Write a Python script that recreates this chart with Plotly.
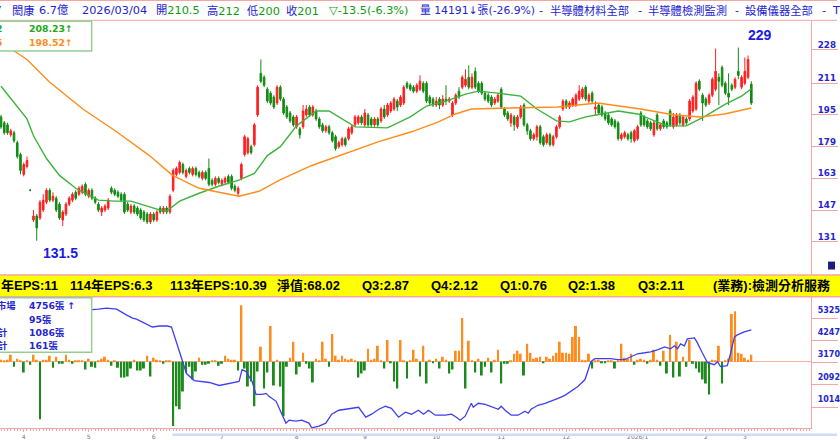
import plotly.graph_objects as go

# ---------------- data ----------------
opens = [194,191,190,185,186,181,175,165,169,157,
         142,144,143,147,151,157,152,153,150,142,
         145,150,152,156,155,156,160,154,157,153,
         150,146,147,148,158,157,156,155,155,150,
         146,149,148,147,146,145,141,145,142,148,
         146,148,146,157,165,166,170,164,168,165,
         168,166,163,166,168,162,160,163,160,161,
         164,164,159,155.5,163,175,176,179,180,195,
         216,214,208,206,204,201,209,203,199,196,
         194,189,188,189,195,199,195,197,193,190,
         187,189,186,184,179,180,183,183,186,190,
         191,194,190,195,193,190,193,192,198,195,
         197,198,202,200,201,211,210,209,207,208,
         211,211,204,203,200,203,200,203,202,195,
         201,207,209,210,214,209,217,211,211,206,
         205,204,201,202,208,198,196,191,194,189,
         194,200,190,187,183,184,189,184,181,185,
         180,184,189,198,202,199,200,200,203,204,
         209,202,206,198,200,199,196,195,193,192,
         191,183,184,185,186,182,183,196,194,192,
         191,185,195,188,192,191,197,189,190,195,
         190,193,193,197,198,212,205,203,201,205,
         208,214,219,211,206,210,209,217,209,211,
         214,210.5]
highs = [195,192,191,188,187,182,176,171,174,157.5,
         147,145,152,155,158,158,156,154,151,147,
         151,154,156,157,159,160,161,158,158,154,
         151,149,150,153,159,158,157,156,156,151,
         150,150,149,148,147,146,146,146,147,149,
         149,149,155,168,169,172,171,168,169,169,
         169,167,167,167,173,163,164,164,163,164,
         165,165,160,159,171,185,184,180,191,210,
         223,215,209,207,205,210,210,204,200,197,
         195,195,189,200,200,200,200,198,194,191,
         190,190,187,185,182,184,184,189,190,195,
         195,195,198,196,194,194,194,199,200,201,
         202,204,203,205,210,212,211,210,211,215,
         212,212,205,204,204,204,205,210,204,202,
         206,209,215,218,220,216,219,212,212,207,
         206,205,204,206,209,199,197,196,195,195,
         200,201,191,188,186,190,190,185,186,186,
         185,190,195,203,203,202,204,206,210,209,
         210,206,207,202,201,200,197,196,194,193,
         192,186,187,186,187,188,190,197,195,193,
         192,192,196,191,193,192,198,196,196,196,
         195,194,203,205,212,213,206,204,206,214,
         228.5,216,220,212,216,211,214,229,215,224,
         225,212]
lows = [188,185,185,184,181,173,165,164,168,156.5,
        141,131.5,142,146,150,151,151,146,142,139,
        144,149,151,152,154,155,154,153,152,150,
        146,144,146,147,155,154,153,151,145,146,
        145,145,144,142,141,140,140,141,141,145,
        145,145,145,156,164,165,165,163,165,164,
        164,163,162,162,159,159,159,160,159,160,
        160,157,156,154,162,174,175,175,179,194,
        211,209,201,200,198,200,202,195,193,191,
        189,188,183,188,194,194,194,192,188,186,
        186,185,181,177,178,179,179,182,185,189,
        190,190,189,189,189,189,189,191,193,194,
        196,197,197,199,200,208,207,206,206,207,
        206,201,200,199,199,198,199,200,201,194,
        200,203,208,209,208,208,208,206,205,202,
        201,199,200,201,198,194,192,189,187,188,
        193,189,185,182,182,182,180,179,180,179,
        179,183,188,197,198,198,199,199,202,203,
        202,201,201,195,195,194,192,190,189,188,
        182,182,183,182,181,181,182,189,189,188,
        187,184,187,187,188,188,189,188,189,190,
        189,190,192,196,197,207,192,199,200,204,
        207,200,209,205,200,207,208,213,208,210,
        213,200]
closes = [189,186,186,187,182,174,167,170,172,157,
          144,138,151,152,157,152,154,147,143,146,
          150,153,155,153,158,159,155,157,153,151,
          147,148,149,152,156,155,154,152,146,147,
          149,146,145,143,142,141,145,142,146,146,
          148,146,154,167,168,171,166,167,166,168,
          165,164,166,163,160,160,163,161,162,163,
          161,158,157,158,170,184,183,176,190,209,
          212,210,202,201,199,209,203,196,194,192,
          190,194,185,197,198,195,199,193,189,187,
          189,186,182,178,181,183,180,188,189,194,
          194,191,196,190,190,193,190,198,194,200,
          201,203,199,204,209,209,208,207,210,212,
          207,202,201,200,202,200,203,202,203,201,
          205,204,214,213,209,214,209,207,206,203,
          202,200,203,205,199,195,193,195,190,194,
          199,190,187,183,185,189,181,180,185,180,
          184,189,194,202,199,201,203,205,207,208,
          203,205,202,199,196,195,193,191,190,189,
          183,185,186,183,183,187,189,190,190,189,
          188,191,188,190,189,189,190,194,195,191,
          194,191,202,204,211,208,201,200,205,213,
          217,212,210,206,204,208,213,215,214,217,
          223,201]

# moving averages (vertices at bar positions)
ma_short_x = [0, 8, 10, 14, 18, 23, 27, 30, 35, 40, 44, 49, 51, 55, 61, 67, 73, 78, 82, 86,
              91, 97, 101, 109, 119, 126, 131, 137, 143, 147, 153, 160, 165, 171, 175, 180,
              185, 190, 196, 201, 205, 211, 217, 223, 228, 231]
ma_short_v = [209.5, 193, 184.5, 173, 164.5, 158, 154.5, 152, 151.5, 151.5, 149.5, 147, 146.5,
              151.5, 155.5, 159, 162, 165.5, 174.5, 179, 189.5, 197, 197, 189, 188.5, 194,
              199.5, 202, 205.5, 207, 206, 204.5, 198, 192, 191.5, 194, 195.5, 197, 195.5,
              192, 189.5, 189.5, 194.5, 200.5, 204.5, 208.23]
ma_long_x = [0, 4.3, 8, 15, 25.2, 35.6, 45.7, 52.8, 61, 71.2, 73.3, 79.4, 85.6, 95.7, 106.1,
             116.3, 126.4, 134.7, 139.9, 144.8, 157.1, 171.5, 183.7, 196.9, 207.4, 215.3,
             222.7, 231]
ma_long_v = [230.5, 227, 223, 211.5, 198, 186.5, 174.5, 164.5, 158, 154.5, 154, 156.5, 162,
             169.5, 175.5, 181.5, 186.5, 191.5, 195.5, 198, 198.5, 199, 201, 198, 195, 194,
             195.5, 198.52]

# daily net buy/sell (張)
net_buy = [40,20,40,140,-100,60,20,-220,20,-60,
           140,40,-1160,40,40,120,-120,100,-40,-40,
           140,40,-40,20,20,20,-160,60,-100,-120,
           20,60,100,40,-80,20,-120,-320,-320,-300,
           -140,40,-180,-180,-140,120,-300,80,40,20,
           -40,20,20,-1300,-900,-960,-600,-220,-100,-360,
           -200,80,-60,-60,-40,20,20,-80,-40,120,
           60,40,40,-180,1140,-140,-500,-400,-900,-200,
           300,-540,-220,720,-480,40,-500,-1100,-100,80,
           400,-260,-100,180,-40,-140,-420,60,20,400,
           60,-100,560,120,40,120,60,40,60,20,
           -320,-240,-180,260,40,60,320,20,-140,440,
           -20,-400,-540,440,20,-340,20,240,60,-300,
           320,-440,40,-20,60,-140,100,40,-240,-160,
           220,220,880,-540,420,20,-220,60,-280,-100,
           80,-220,40,240,-440,-40,-40,20,160,220,
           160,-280,360,180,60,80,100,-20,100,60,
           120,180,400,180,180,160,500,720,500,40,
           20,160,-140,20,40,-20,-20,20,20,-140,
           20,360,80,60,160,-60,40,60,40,-40,
           40,240,40,-80,220,-240,540,-320,400,-300,
           100,-100,440,-40,-140,-220,-360,-440,-660,40,
           20,320,-440,20,60,960,1020,180,160,80,
           40,140]

# cumulative holdings (張)
hold_x = [0, 9, 18, 28, 30, 32.5, 35.6, 38.7, 40.5, 41.7,
          43.6, 44.8, 46.6, 48.8, 51.2, 52.5, 54.0, 54.9, 55.8, 57.1,
          59.5, 62.0, 64.1, 67.2, 70.2, 72.7, 73.3, 74.2, 75.5, 76.4,
          77.3, 78.5, 80.4, 81.6, 82.5, 84.7, 86.5, 87.7, 88.7, 90.8,
          92.6, 94.8, 95.7, 97.9, 100.0, 101.8, 104.0, 108.0, 110.1, 112.3,
          114.1, 116.3, 118.4, 120.2, 122.4, 124.5, 126.4, 128.5, 130.1, 131.6,
          133.7, 136.8, 138.7, 140.2, 141.4, 142.9, 144.8, 145.4, 146.9, 149.1,
          150.9, 153.1, 154.0, 155.2, 157.1, 159.2, 161.3, 162.3, 163.2, 165.3,
          167.5, 169.3, 171.5, 173.6, 175.5, 177.6, 179.8, 181.6, 182.8, 184.7,
          187.7, 189.9, 192.0, 193.9, 196.0, 198.2, 200.0, 202.1, 204.3, 206.1,
          207.4, 208.3, 209.2, 210.4, 211.3, 213.5, 214.4, 215.9, 217.5, 219.6,
          220.6, 221.5, 223.6, 224.5, 225.8, 226.7, 228.8, 231]
hold_v = [5565, 5660, 5612, 5708, 5756, 5804, 5756, 5469, 5325, 5277,
          5133, 5038, 4894, 4942, 4942, 4894, 4175, 3649, 3217, 2643,
          2307, 2260, 2212, 2068, 2164, 2212, 2260, 2834, 2738, 2499,
          2260, 1637, 1637, 1685, 1541, 1301, 679, 248, 391, 344,
          391, 248, 20, 104, 248, 679, 870, 966, 1014, 535,
          679, 918, 1062, 966, 535, 775, 679, 870, 679, 870,
          631, 631, 679, 535, 391, 583, 1206, 1014, 1206, 1158,
          1062, 918, 1062, 870, 631, 631, 823, 727, 918, 1110,
          1206, 1301, 1445, 1589, 1781, 2020, 2355, 3217, 3361, 3361,
          3361, 3313, 3313, 3457, 3601, 3649, 3696, 3792, 3936, 3840,
          3984, 3840, 4080, 3984, 4319, 4367, 4128, 3649, 3169, 3074,
          3217, 2978, 3026, 3553, 4415, 4511, 4654, 4756]

month_ticks = [7, 27, 47, 68, 91, 112, 134, 154, 174, 196, 217, 229]
month_labels = ["4", "5", "6", "7", "8", "9", "10", "11", "12", "2026/1", "2", "3"]
price_ticks = [228, 211, 195, 179, 163, 147, 131]
hold_ticks = [5325, 4247, 3170, 2092, 1014]

# ---------------- styling ----------------
W, H = 840, 440
def px(v):
    return v / W
def py(v):
    return 1 - v / H

FONT = "DejaVu Sans, Noto Sans CJK TC, sans-serif"
ARIAL = "Liberation Sans, Arial, Noto Sans CJK TC, sans-serif"
PINK = "#f2a6a6"
BLUE = "#2424d0"
GTXT = "#0e9a0e"
RED = "#ff1f1f"
DGREEN = "#138a13"
ORANGE = "#ff8c1a"

x = list(range(len(closes)))

fig = go.Figure()
fig.add_trace(go.Candlestick(
    x=x, open=opens, high=highs, low=lows, close=closes,
    increasing=dict(line=dict(color=RED, width=1), fillcolor=RED),
    decreasing=dict(line=dict(color=DGREEN, width=1), fillcolor=DGREEN),
    whiskerwidth=0, xaxis="x", yaxis="y", showlegend=False, hoverinfo="skip"))
fig.add_trace(go.Scatter(x=ma_short_x, y=ma_short_v, mode="lines",
                         line=dict(color="#3cb43c", width=1.4), xaxis="x", yaxis="y",
                         showlegend=False, hoverinfo="skip"))
fig.add_trace(go.Scatter(x=ma_long_x, y=ma_long_v, mode="lines",
                         line=dict(color=ORANGE, width=1.4), xaxis="x", yaxis="y",
                         showlegend=False, hoverinfo="skip"))
fig.add_trace(go.Bar(x=x, y=net_buy,
                     marker=dict(color=[ORANGE if v > 0 else "#1d8a1d" for v in net_buy], line=dict(width=0)),
                     width=0.6, xaxis="x", yaxis="y2", showlegend=False, hoverinfo="skip"))
fig.add_trace(go.Scatter(x=hold_x, y=hold_v, mode="lines",
                         line=dict(color="#3f3ff2", width=1.3), xaxis="x", yaxis="y3",
                         showlegend=False, hoverinfo="skip"))

axis_font = dict(family=FONT, size=8.7, color=BLUE, weight="bold")
fig.update_layout(
    width=W, height=H, margin=dict(l=0, r=0, t=0, b=0),
    paper_bgcolor="white", plot_bgcolor="white", showlegend=False,
    font=dict(family=FONT),
    xaxis=dict(domain=[0, px(814)], range=[-0.31, 249.4], anchor="y2",
               showgrid=False, zeroline=False, showline=True, linecolor=PINK, linewidth=1,
               tickmode="array", tickvals=month_ticks, ticktext=month_labels,
               ticks="outside", ticklen=3, tickcolor=PINK,
               tickfont=dict(family=FONT, size=6, color="#777777"),
               minor=dict(tickmode="linear", tick0=0, dtick=1, ticks="outside",
                          ticklen=2, tickcolor=PINK, showgrid=False),
               rangeslider=dict(visible=False), fixedrange=True),
    yaxis=dict(domain=[py(277), py(20)], range=[114.5, 243], side="right", anchor="x",
               showgrid=False, zeroline=False, showline=True, linecolor=PINK,
               tickmode="array", tickvals=price_ticks, ticks="outside", ticklen=26,
               tickcolor=PINK, tickfont=axis_font, ticklabelstandoff=-22,
               ticklabelshift=-5),
    yaxis2=dict(domain=[py(432), py(299)], range=[-1340, 1320], anchor="x",
                showgrid=False, showticklabels=False, zeroline=True,
                zerolinecolor="#f3b59a", zerolinewidth=1, ticks=""),
    yaxis3=dict(overlaying="y2", range=[8, 6380], side="right", anchor="x",
                showgrid=False, zeroline=False, showline=True, linecolor=PINK,
                tickmode="array", tickvals=hold_ticks, ticks="outside", ticklen=26,
                tickcolor=PINK, tickfont=dict(family=FONT, size=8, color=BLUE, weight="bold"),
                ticklabelstandoff=-22, ticklabelshift=-8),
)

shapes = []
# header lines
shapes.append(dict(type="line", xref="paper", yref="paper", x0=0, x1=1, y0=py(0.5), y1=py(0.5),
                   line=dict(color=PINK, width=1)))
shapes.append(dict(type="line", xref="paper", yref="paper", x0=0, x1=1, y0=py(20.5), y1=py(20.5),
                   line=dict(color=PINK, width=1)))
# yellow band
shapes.append(dict(type="rect", xref="paper", yref="paper", x0=-0.01, x1=1.01, y0=py(299.5), y1=py(277.5),
                   fillcolor="#ffff00", line=dict(color=PINK, width=1.5), layer="above"))
# legend boxes
shapes.append(dict(type="rect", xref="paper", yref="paper", x0=-0.01, x1=px(92), y0=py(51.5), y1=py(21.5),
                   fillcolor="white", line=dict(color="#93cf93", width=1.5), layer="above"))
shapes.append(dict(type="rect", xref="paper", yref="paper", x0=-0.01, x1=px(92), y0=py(355.5), y1=py(300.5),
                   fillcolor="white", line=dict(color="#93cf93", width=1.5), layer="above"))
# small icon in price axis strip
shapes.append(dict(type="rect", xref="paper", yref="paper", x0=px(831), x1=px(838), y0=py(272), y1=py(264),
                   fillcolor="#1b1b80", line=dict(width=0), layer="above"))
# bottom strip
shapes.append(dict(type="rect", xref="paper", yref="paper", x0=px(173), x1=1, y0=0, y1=py(437.5),
                   fillcolor="#cfdcf7", line=dict(width=0), layer="above"))
fig.update_layout(shapes=shapes)

ann = []
def txt(xp, yp, text, color=BLUE, size=11.3, family=FONT, anchor="left", weight="normal"):
    ann.append(dict(xref="paper", yref="paper", x=px(xp), y=py(yp), text=text, showarrow=False,
                    xanchor=anchor, yanchor="middle", borderpad=0,
                    font=dict(family=family, size=size, color=color, weight=weight)))

def g(s):
    return '<span style="color:%s">%s</span>' % (GTXT, s)

# header
hy = 11
txt(3.5, hy, "3587", anchor="right")
txt(11, hy, "閎康")
txt(38, hy, "6.7億")
txt(81, hy, "2026/03/04")
txt(156, hy, "開" + g("210.5"))
txt(207, hy, "高" + g("212"))
txt(247, hy, "低" + g("200"))
txt(286, hy, "收" + g("201"))
txt(329, hy, g("▽-13.5(-6.3%)"))
txt(421, hy, "量 14191↓張(-26.9%)", size=10.8)
txt(540, hy, "-")
txt(551, hy, "半導體材料全部")
txt(639, hy, "-")
txt(649, hy, "半導體檢測監測")
txt(737, hy, "-")
txt(747, hy, "設備儀器全部")
txt(824, hy, "-")
txt(834, hy, "T")

# top legend
txt(3.5, 28.5, "2", color="#22a822", size=9.3, anchor="right", weight="bold")
txt(28, 28.5, "208.23↑", color="#22a822", size=9.3, weight="bold")
txt(3.5, 43, "5", color=ORANGE, size=9.3, anchor="right", weight="bold")
txt(28, 43, "198.52↑", color=ORANGE, size=9.3, weight="bold")

# lower legend
txt(17.5, 308, "市場", size=9.3, anchor="right", weight="bold")
txt(28, 308, "4756張 ↑", size=9.3, weight="bold")
txt(28, 322, "95張", size=9.3, weight="bold")
txt(8.5, 335.5, "計", size=9.3, anchor="right", weight="bold")
txt(28, 335.5, "1086張", size=9.3, weight="bold")
txt(8.5, 349, "計", size=9.3, anchor="right", weight="bold")
txt(28, 349, "161張", size=9.3, weight="bold")

# yellow band
yy = 288.5
band = [(0.5, "年EPS:11"), (69, "114年EPS:6.3"), (170, "113年EPS:10.39"), (277, "淨值:68.02"),
        (362, "Q3:2.87"), (432, "Q4:2.12"), (501, "Q1:0.76"), (569, "Q2:1.38"),
        (639, "Q3:2.11"), (715, "(業務):檢測分析服務")]
for bx, bt in band:
    txt(bx, yy, bt, color="black", size=13, family=ARIAL, weight="bold")

# extreme labels
i_lo = min(range(len(lows)), key=lambda i: lows[i])
i_hi = max(range(len(highs)), key=lambda i: highs[i])
ann.append(dict(xref="x", yref="y", x=i_lo, y=lows[i_lo], text="%g" % lows[i_lo], showarrow=False,
                xanchor="left", yanchor="top", xshift=4, yshift=-2,
                font=dict(family=ARIAL, size=14, color="#1a1ae6", weight="bold")))
ann.append(dict(xref="x", yref="y", x=i_hi, y=highs[i_hi], text="%g" % highs[i_hi], showarrow=False,
                xanchor="left", yanchor="bottom", xshift=8, yshift=3,
                font=dict(family=ARIAL, size=14, color="#1a1ae6", weight="bold")))

fig.update_layout(annotations=ann)
fig.write_html("out.html")
